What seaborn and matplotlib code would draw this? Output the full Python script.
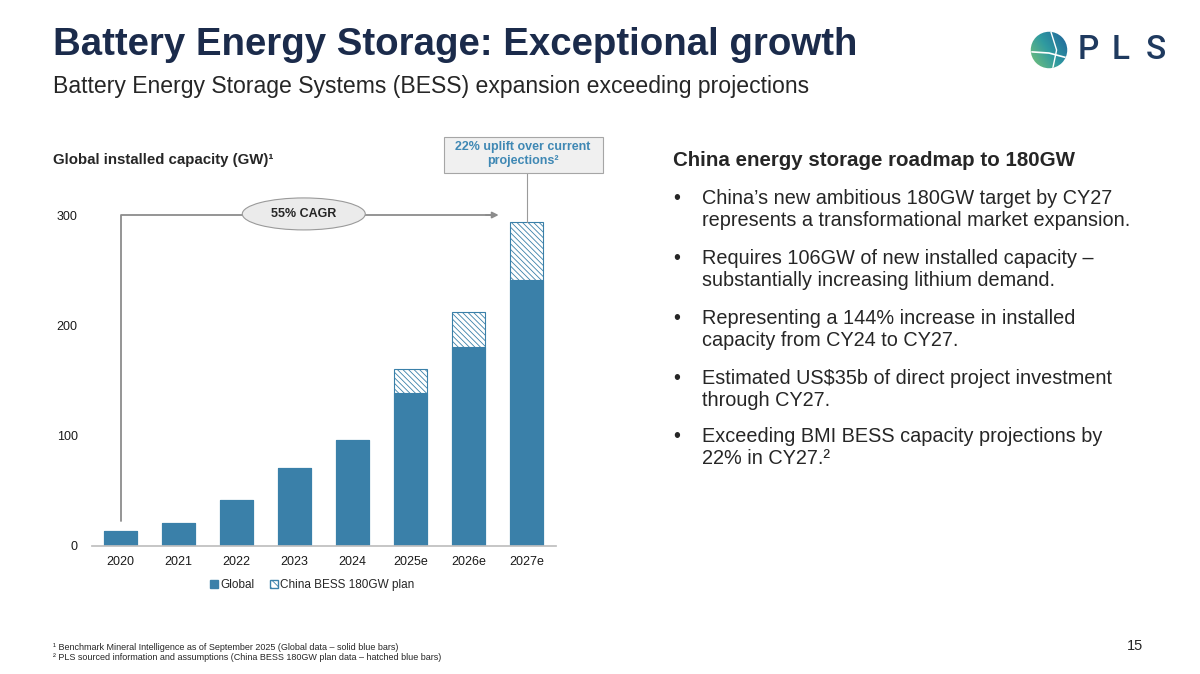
import numpy as np
import pandas as pd
import matplotlib
matplotlib.use("Agg")
import matplotlib.pyplot as plt
import seaborn as sns
from matplotlib.patches import Patch, Ellipse, Rectangle, Circle

# data (GW)
years = ["2020", "2021", "2022", "2023", "2024", "2025e", "2026e", "2027e"]
global_gw = [14, 21, 42, 71, 96, 139, 180, 241]
china_plan_gw = [0, 0, 0, 0, 0, 21, 32, 53]

bullets = [
    "China\u2019s new ambitious 180GW target by CY27\nrepresents a transformational market expansion.",
    "Requires 106GW of new installed capacity \u2013\nsubstantially increasing lithium demand.",
    "Representing a 144% increase in installed\ncapacity from CY24 to CY27.",
    "Estimated US$35b of direct project investment\nthrough CY27.",
    "Exceeding BMI BESS capacity projections by\n22% in CY27.\u00b2",
]

df = pd.DataFrame({"year": years, "global": global_gw, "china": china_plan_gw})
df["total"] = df["global"] + df["china"]

BLUE = "#3a80a9"
NAVY = "#1b2b4b"
TXT = "#262626"

sns.set_theme(style="white")
plt.rcParams["font.family"] = ["Liberation Sans", "DejaVu Sans"]
plt.rcParams["hatch.color"] = BLUE
plt.rcParams["hatch.linewidth"] = 0.6

fig = plt.figure(figsize=(12, 6.74), dpi=100)
W, H = 1200, 674


def px(x, y):
    return x / W, 1 - y / H


ax = fig.add_axes([91.5 / W, 1 - 546 / H, 464 / W, 342 / H])

# hatched totals first, solid global on top
sns.barplot(data=df, x="year", y="total", color="white", width=0.57, ax=ax,
            edgecolor=BLUE, linewidth=0.8, hatch="\\\\\\\\\\\\", saturation=1)
sns.barplot(data=df, x="year", y="global", color=BLUE, width=0.57, ax=ax,
            edgecolor=BLUE, linewidth=0.8, saturation=1)

ax.set_xlim(-0.5, 7.5)
ax.set_ylim(0, 310)
ax.set_yticks([0, 100, 200, 300])
ax.set_xlabel("")
ax.set_ylabel("")
for s in ["top", "right", "left"]:
    ax.spines[s].set_visible(False)
ax.spines["bottom"].set_color("#bfbfbf")
ax.tick_params(axis="both", length=0, labelsize=9, colors="#1a1a1a")
ax.tick_params(axis="y", pad=10)
ax.tick_params(axis="x", pad=7)

# CAGR connector
ax.plot([0, 0, 6.4], [23, 300, 300], color="#8c8c8c", lw=1.3, clip_on=False)
ax.annotate("", xy=(6.52, 300), xytext=(6.3, 300),
            arrowprops=dict(arrowstyle="-|>", color="#8c8c8c", lw=1.3, mutation_scale=9,
                            shrinkA=0, shrinkB=0),
            annotation_clip=False)
ax.add_patch(Ellipse((3.16, 301), 2.12, 29, facecolor="#ebebeb", edgecolor="#9a9a9a",
                     lw=0.8, clip_on=False, zorder=5))
ax.text(3.16, 301, "55% CAGR", ha="center", va="center", fontsize=9,
        fontweight="bold", color=TXT, zorder=6)

# uplift callout
ax.plot([7, 7], [df["total"].iloc[-1], 338], color="#9a9a9a", lw=0.8, clip_on=False)
fig.patches.append(Rectangle(px(444, 173), 159 / W, 36 / H, transform=fig.transFigure,
                             facecolor="#f0f0f0", edgecolor="#a6a6a6", lw=0.8))
fig.text(*px(523, 154), "22% uplift over current\nprojections\u00b2", ha="center",
         va="center", fontsize=9, fontweight="bold", color="#3f88b4", linespacing=1.3)

# legend
handles = [Patch(facecolor=BLUE, edgecolor=BLUE, label="Global"),
           Patch(facecolor="white", edgecolor=BLUE, hatch="\\\\\\\\", label="China BESS 180GW plan")]
fig.legend(handles=handles, loc="center", bbox_to_anchor=px(312, 585), ncol=2,
           frameon=False, fontsize=8.5, handlelength=0.7, handleheight=0.7,
           handletextpad=0.2, columnspacing=1.3)

fig.text(*px(53, 160), "Global installed capacity (GW)\u00b9", fontsize=10.8,
         fontweight="bold", color=TXT, va="center")

# titles
fig.text(*px(53, 45), "Battery Energy Storage: Exceptional growth", fontsize=27.6,
         fontweight="bold", color=NAVY, va="center")
fig.text(*px(53, 86), "Battery Energy Storage Systems (BESS) expansion exceeding projections",
         fontsize=16.6, color=TXT, va="center")

# right column
fig.text(*px(673, 161), "China energy storage roadmap to 180GW", fontsize=14.8,
         fontweight="bold", color=TXT, va="center")
bullet_y = [210, 269, 329, 389, 448]
for yb, txt in zip(bullet_y, bullets):
    fig.text(*px(673, yb - 11), "\u2022", fontsize=14.3, color=TXT, va="center")
    fig.text(*px(702, yb), txt, fontsize=14.3, color=TXT, va="center", linespacing=1.2)

# footnotes and page number
fig.text(*px(53, 648), "\u00b9 Benchmark Mineral Intelligence as of September 2025 (Global data \u2013 solid blue bars)",
         fontsize=6.5, color=TXT, va="center")
fig.text(*px(53, 658), "\u00b2 PLS sourced information and assumptions (China BESS 180GW plan data \u2013 hatched blue bars)",
         fontsize=6.5, color=TXT, va="center")
fig.text(*px(1135, 646), "15", fontsize=10.5, color=TXT, ha="center", va="center")

# logo
lax = fig.add_axes([1030 / W, 1 - 69 / H, 38 / W, 38 / H])
grad = np.linspace(0, 1, 100)
gx, gy = np.meshgrid(grad, grad)
cmap = matplotlib.colors.LinearSegmentedColormap.from_list("pls", ["#7cc576", "#2f9aa0", "#1f5f9a"])
im = lax.imshow(gx * 0.6 + (1 - gy) * 0.4, cmap=cmap, extent=(0, 1, 0, 1), origin="upper")
circ = Circle((0.5, 0.5), 0.48, transform=lax.transData)
im.set_clip_path(circ)
lax.plot([0.05, 0.5, 0.95], [0.45, 0.42, 0.3], color="white", lw=1.2)
lax.plot([0.55, 0.7, 0.6], [0.98, 0.5, 0.02], color="white", lw=1.0)
for ln in lax.lines:
    ln.set_clip_path(circ)
lax.set_xlim(0, 1)
lax.set_ylim(0, 1)
lax.axis("off")
for xl, letter in zip([1088, 1121, 1156], "PLS"):
    fig.text(*px(xl, 50), letter, fontsize=24, color="#1f3a5f", ha="center", va="center",
             family=["Roboto", "DejaVu Sans"], fontweight="medium")

fig.savefig("out.png", dpi=100)
